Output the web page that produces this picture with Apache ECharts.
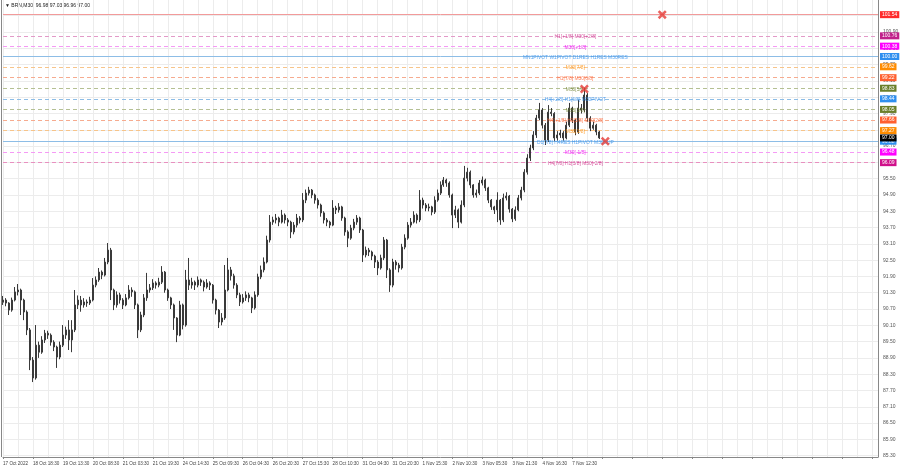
<!DOCTYPE html>
<html><head><meta charset="utf-8">
<script src="https://cdn.jsdelivr.net/npm/echarts@6/dist/echarts.min.js"></script>
<style>html,body{margin:0;padding:0;background:#fff}#c{width:900px;height:468px}</style>
</head><body><div id="c"></div>
<script>
const titleText = '\u25BC BRN,M30  96.98 97.03 96.96 97.00';
const tickLabels = ['17 Oct 2022','18 Oct 18:30','19 Oct 13:30','20 Oct 08:30','21 Oct 03:30','21 Oct 19:30','24 Oct 14:30','25 Oct 09:30','26 Oct 04:30','26 Oct 20:30','27 Oct 15:30','28 Oct 10:30','31 Oct 04:30','31 Oct 20:30','1 Nov 15:30','2 Nov 10:30','3 Nov 05:30','3 Nov 21:30','4 Nov 16:30','7 Nov 12:30'];
const gridPrices = [85.30,85.90,86.50,87.10,87.70,88.30,88.90,89.50,90.10,90.70,91.30,91.90,92.50,93.10,93.70,94.30,94.90,95.50,96.10,96.70,97.30,97.90,98.50,99.10,99.70,100.30,100.90,101.50];
// [open, close, low, high]
const candles = [
[90.95,91.03,90.85,91.18],[91.03,90.92,90.80,91.10],[90.92,90.66,90.48,90.95],[90.66,91.03,90.60,91.12],[91.03,91.33,90.98,91.51],
[91.33,91.40,91.20,91.62],[91.40,91.03,90.48,91.45],[91.03,90.59,90.29,91.08],[90.59,89.93,89.74,90.65],[89.93,88.82,88.45,90.00],
[88.82,88.16,88.01,88.93],[88.16,89.37,88.10,90.11],[89.37,89.11,88.90,89.50],[89.11,89.56,89.05,89.70],[89.56,89.81,89.45,89.93],
[89.81,89.74,89.60,89.90],[89.74,89.48,89.35,89.80],[89.48,89.30,89.15,89.55],[89.30,88.93,88.53,89.35],[88.93,89.37,88.85,89.50],
[89.37,89.74,89.30,90.11],[89.74,89.93,89.60,90.05],[89.93,89.56,89.19,90.29],[89.56,89.93,89.11,90.29],[89.93,90.85,89.85,91.40],
[90.85,91.03,90.70,91.20],[91.03,90.85,90.60,91.18],[90.85,90.96,90.75,91.10],[90.96,90.92,90.78,91.05],[90.92,91.03,90.85,91.15],
[91.03,91.58,90.98,91.84],[91.58,91.77,91.50,91.90],[91.77,92.06,91.70,92.21],[92.06,91.95,91.80,92.12],[91.95,92.43,91.90,92.58],
[92.43,92.87,92.35,93.13],[92.87,91.40,91.03,92.95],[91.40,90.85,90.66,91.45],[90.85,91.22,90.75,91.35],[91.22,91.03,90.90,91.30],
[91.03,90.85,90.70,91.10],[90.85,91.11,90.80,91.25],[91.11,91.40,91.05,91.58],[91.40,91.33,91.15,91.50],[91.33,90.85,90.70,91.38],
[90.85,89.93,89.63,90.90],[89.93,90.48,89.85,90.60],[90.48,91.11,90.40,91.25],[91.11,91.40,91.00,92.03],[91.40,91.48,91.30,91.62],
[91.48,91.66,91.40,91.80],[91.66,91.58,91.45,91.72],[91.58,91.69,91.50,91.85],[91.69,92.06,91.62,92.28],[92.06,91.40,91.30,92.10],
[91.40,91.11,91.00,91.45],[91.11,90.85,90.70,91.15],[90.85,90.37,89.93,90.90],[90.37,89.74,89.48,90.40],[89.74,90.85,89.70,91.00],
[90.85,90.11,89.95,90.90],[90.11,91.77,90.05,92.14],[91.77,91.58,91.40,92.58],[91.58,91.69,91.45,91.85],[91.69,91.58,91.40,91.75],
[91.58,91.77,91.50,91.90],[91.77,91.69,91.55,91.82],[91.69,91.51,91.35,91.75],[91.51,91.66,91.45,91.80],[91.66,91.58,91.40,91.72],
[91.58,91.03,90.90,91.62],[91.03,90.66,90.50,91.08],[90.66,90.22,90.00,90.70],[90.22,90.37,90.10,90.55],[90.37,91.40,90.30,92.32],
[91.40,92.14,91.35,92.58],[92.14,91.92,91.75,92.25],[91.92,91.58,91.45,92.00],[91.58,91.22,91.10,91.65],[91.22,90.96,90.81,91.30],
[90.96,91.11,90.90,91.25],[91.11,91.22,91.00,91.35],[91.22,91.11,90.95,91.30],[91.11,90.74,90.55,91.15],[90.74,91.22,90.68,91.35],
[91.22,91.88,91.15,92.00],[91.88,92.14,91.80,92.30],[92.14,92.43,92.05,92.60],[92.43,93.24,92.38,93.40],[93.24,93.90,93.15,94.16],
[93.90,93.98,93.80,94.10],[93.98,94.05,93.85,94.20],[94.05,93.90,93.75,94.10],[93.90,94.16,93.85,94.35],[94.16,93.98,93.85,94.22],
[93.98,93.90,93.75,94.05],[93.90,93.54,93.31,93.95],[93.54,93.79,93.45,93.90],[93.79,94.05,93.70,94.20],[94.05,93.98,93.85,94.12],
[93.98,94.71,93.90,94.97],[94.71,94.97,94.60,95.10],[94.97,95.08,94.88,95.20],[95.08,94.90,94.78,95.12],[94.90,94.71,94.58,94.95],
[94.71,94.53,94.40,94.78],[94.53,94.24,94.10,94.58],[94.24,93.98,93.85,94.30],[93.98,93.90,93.75,94.05],[93.90,93.79,93.68,93.95],
[93.79,94.42,93.75,94.71],[94.42,94.35,94.20,94.50],[94.35,94.46,94.25,94.60],[94.46,94.05,93.95,94.50],[94.05,93.54,93.40,94.10],
[93.54,93.31,92.98,93.60],[93.31,93.68,93.25,93.80],[93.68,93.90,93.60,94.02],[93.90,94.05,93.80,94.16],[94.05,93.61,93.50,94.10],
[93.61,92.69,92.43,93.65],[92.69,92.87,92.60,93.00],[92.87,92.80,92.65,92.95],[92.80,92.65,92.50,92.85],[92.65,92.43,92.21,92.70],
[92.43,92.21,91.95,92.50],[92.21,92.58,92.15,92.70],[92.58,93.24,92.50,93.35],[93.24,92.14,91.84,93.28],[92.14,91.58,91.33,92.20],
[91.58,92.43,91.50,92.55],[92.43,92.32,92.15,92.50],[92.32,92.21,92.05,92.40],[92.21,92.98,92.15,93.10],[92.98,93.31,92.90,93.45],
[93.31,93.79,93.25,93.90],[93.79,93.90,93.70,94.05],[93.90,94.16,93.85,94.30],[94.16,93.98,93.85,94.22],[93.98,94.71,93.90,95.08],
[94.71,94.53,94.40,94.80],[94.53,94.42,94.30,94.60],[94.42,94.46,94.30,94.58],[94.46,94.27,94.15,94.50],[94.27,94.71,94.20,94.85],
[94.71,94.97,94.65,95.10],[94.97,95.27,94.90,95.40],[95.27,95.45,95.20,95.56],[95.45,95.34,95.20,95.50],[95.34,94.90,94.80,95.40],
[94.90,94.16,93.68,94.95],[94.16,94.35,94.05,94.50],[94.35,93.90,93.68,94.40],[93.90,94.53,93.85,94.70],[94.53,95.52,94.45,95.97],
[95.52,95.74,95.40,95.90],[95.74,95.27,95.15,95.80],[95.27,94.90,94.80,95.30],[94.90,94.97,94.80,95.10],[94.97,95.34,94.90,95.45],
[95.34,95.45,95.25,95.58],[95.45,95.16,95.05,95.50],[95.16,94.71,94.60,95.20],[94.71,94.46,94.35,94.75],[94.46,94.35,94.20,94.50],
[94.35,94.71,93.90,95.00],[94.71,93.98,93.80,94.75],[93.98,94.79,93.90,94.95],[94.79,94.86,94.70,95.00],[94.86,94.38,94.25,94.90],
[94.38,94.02,93.90,94.42],[94.02,94.35,93.95,94.48],[94.35,94.79,94.30,94.90],[94.79,95.08,94.70,95.20],[95.08,95.74,95.00,95.85],
[95.74,96.26,95.65,96.40],[96.26,96.63,96.15,96.75],[96.63,97.11,96.55,97.25],[97.11,97.73,97.00,97.85],[97.73,98.03,97.65,98.29],
[98.03,97.47,97.35,98.10],[97.47,96.92,96.74,97.55],[96.92,97.95,96.85,98.21],[97.95,97.90,97.80,98.10],[97.90,97.00,96.88,97.95],
[97.00,97.11,96.90,97.25],[97.11,97.18,97.00,97.30],[97.18,97.00,96.90,97.25],[97.00,97.47,96.95,97.60],[97.47,98.10,97.40,98.29],
[98.10,97.66,97.55,98.15],[97.66,97.22,97.10,97.70],[97.22,98.10,97.15,98.40],[98.10,98.03,97.90,98.25],[98.03,98.58,97.95,98.84],
[98.58,97.73,97.60,98.65],[97.73,97.36,97.25,97.80],[97.36,97.47,97.30,97.60],[97.47,97.22,97.10,97.52],[97.22,97.00,96.96,97.26]
];
const levelPrices = [101.54,100.76,100.38,100.00,99.62,99.22,98.83,98.44,98.05,97.66,97.27,96.88,96.48,96.09];
const levelTexts = ['','H1[+1/8] M30[+2/8]','M30[+1/8]','MN1PIVOT W1PIVOT D1RES H1RES M30RES','M30[7/8]','H1[7/8] M30[6/8]','M30[5/8]','H4[+2/8] H1[6/8] M30PIVOT','M30[3/8]','H4[+1/8] H1[5/8] M30[2/8]','M30[1/8]','D1[7/8] H4RES H1PIVOT M30SUP','M30[-1/8]','H4[7/8] H1[3/8] M30[-2/8]'];
const lastPrice = 97.00;
const crossPoints = [[220,101.54],[194,98.80],[201,96.88]];

// styles (kept separate from data)
const levelStyles = [
 {c:'#f29a9a',box:'#ff2a2a',t:'solid'},
 {c:'#e29ac8',box:'#c0208a',t:[4,3]},
 {c:'#f59af5',box:'#ff00ff',t:[4,3]},
 {c:'#8dbde6',box:'#2f8fef',t:'solid'},
 {c:'#f7c48a',box:'#ff8c00',t:[4,3]},
 {c:'#f6ab8f',box:'#ff6030',t:[4,3]},
 {c:'#b5c093',box:'#6b7f2a',t:[4,3]},
 {c:'#8dbde6',box:'#2f8fef',t:[4,3]},
 {c:'#b5c093',box:'#6b7f2a',t:[4,3]},
 {c:'#f6ab8f',box:'#ff6030',t:[4,3]},
 {c:'#f7c48a',box:'#ff8c00',t:[4,3]},
 {c:'#8dbde6',box:'#2f8fef',t:'solid'},
 {c:'#f59af5',box:'#ff00ff',t:[4,3]},
 {c:'#e890c0',box:'#d0108a',t:[4,3]}
];
const textColors = ['#000','#d0308a','#ee00ee','#2f8fef','#ff8c00','#ff6030','#6b7f2a','#2f8fef','#6b7f2a','#ff6030','#ff8c00','#2f8fef','#ee00ee','#d0308a'];
const FONT = 'Liberation Sans';
const TOTAL = 293;
const textIndex = 191;

const cats = [];
for (let i = 0; i < TOTAL; i++) cats.push(String(i));

const markData = [];
gridPrices.forEach(v => markData.push({
  yAxis: v,
  lineStyle: {color: '#ececec', type: 'solid', width: 1},
  label: {show: true, position: 'end', distance: 5, formatter: v.toFixed(2), color: '#555', fontSize: 5, fontFamily: FONT}
}));
levelPrices.forEach((v, k) => markData.push({
  yAxis: v,
  lineStyle: {color: levelStyles[k].c, type: levelStyles[k].t, width: 1},
  label: {show: true, position: 'end', distance: 2, formatter: v.toFixed(2), color: '#fff', fontSize: 5, fontFamily: FONT,
          backgroundColor: levelStyles[k].box, padding: [1, 2, 1, 2]}
}));
markData.push({
  yAxis: lastPrice,
  lineStyle: {color: 'rgba(0,0,0,0)', width: 0},
  label: {show: true, position: 'end', distance: 2, formatter: lastPrice.toFixed(2), color: '#fff', fontSize: 5, fontFamily: FONT,
          backgroundColor: '#000', padding: [1, 2, 1, 2]}
});

const textData = [];
levelPrices.forEach((v, k) => {
  if (!levelTexts[k]) return;
  textData.push({value: [textIndex, v], label: {formatter: levelTexts[k], color: textColors[k]}});
});

const chart = echarts.init(document.getElementById('c'), null, {renderer: 'canvas'});
chart.setOption({
  animation: false,
  backgroundColor: '#fff',
  grid: {left: 2, right: 22, top: 0, bottom: 11, containLabel: false},
  xAxis: {
    type: 'category', data: cats, boundaryGap: false,
    axisLine: {show: true, lineStyle: {color: '#888'}},
    axisTick: {show: true, interval: 9, length: 2, lineStyle: {color: '#888'}},
    axisLabel: {interval: 9, showMinLabel: true, hideOverlap: false, align: 'left', margin: 4, fontSize: 4.6, color: '#444', fontFamily: FONT,
      formatter: (v, i) => { const n = Number(v); return (n % 10 === 0 && tickLabels[n / 10]) ? tickLabels[n / 10] : ''; }},
    splitLine: {show: true, interval: 4, lineStyle: {color: '#ececec'}}
  },
  yAxis: {
    type: 'value', position: 'right', min: 85.25, max: 102.08, scale: true,
    axisLine: {show: true, lineStyle: {color: '#888'}},
    axisTick: {show: false}, axisLabel: {show: false}, splitLine: {show: false}
  },
  series: [
    {
      type: 'candlestick', data: candles, barWidth: 1.5,
      itemStyle: {color: '#505050', color0: '#505050', borderColor: '#3a3a3a', borderColor0: '#3a3a3a', borderWidth: 1},
      markLine: {silent: true, symbol: ['none', 'none'], animation: false, data: markData, z: 1},
      z: 5
    },
    {
      type: 'scatter', data: textData, symbolSize: 0, silent: true, z: 6,
      label: {show: true, position: 'inside', offset: [0, 1], fontSize: 4.9, fontFamily: FONT}
    },
    {
      type: 'scatter', data: crossPoints, silent: true, z: 7,
      symbol: 'path://M2,0 L5,3 L8,0 L10,2 L7,5 L10,8 L8,10 L5,7 L2,10 L0,8 L3,5 L0,2 Z',
      symbolSize: 9, itemStyle: {color: '#e53935'}
    }
  ],
  graphic: [
    {type: 'line', shape: {x1: 1.5, y1: 0, x2: 1.5, y2: 457}, style: {stroke: '#888', lineWidth: 1}},
    {type: 'text', left: 5, top: 3, style: {text: titleText, fontSize: 5, fill: '#222', fontFamily: FONT}}
  ]
});
</script>
</body></html>
